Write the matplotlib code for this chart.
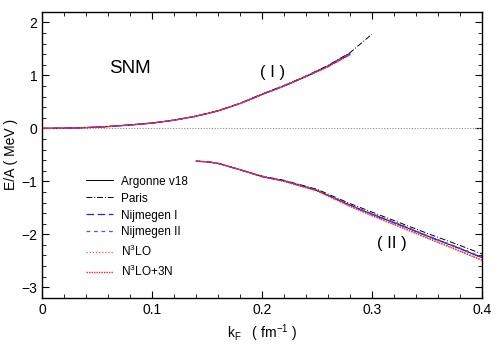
import matplotlib
matplotlib.use("Agg")
import matplotlib.pyplot as plt
from matplotlib.ticker import MultipleLocator

plt.rcParams['font.family'] = ['Liberation Sans', 'DejaVu Sans']
plt.rcParams['mathtext.fontset'] = 'custom'
plt.rcParams['mathtext.rm'] = 'Liberation Sans'
plt.rcParams['mathtext.it'] = 'Liberation Sans'

# ---- data (branch I: upper, branch II: lower) ----
kF_up = [0.0, 0.02, 0.04, 0.06, 0.08, 0.10, 0.12, 0.14, 0.16, 0.18, 0.20, 0.22, 0.24, 0.26, 0.28]
av18_up = [0.0, 0.005, 0.015, 0.035, 0.065, 0.10, 0.155, 0.23, 0.33, 0.47, 0.64, 0.80, 0.98, 1.17, 1.40]
kF_up_paris = [0.0, 0.02, 0.04, 0.06, 0.08, 0.10, 0.12, 0.14, 0.16, 0.18, 0.20, 0.22, 0.24, 0.26, 0.28, 0.30]
paris_up = [0.0, 0.005, 0.015, 0.035, 0.066, 0.10, 0.157, 0.232, 0.335, 0.475, 0.65, 0.81, 0.99, 1.19, 1.43, 1.78]
nijm1_up = [0.0, 0.005, 0.015, 0.035, 0.065, 0.10, 0.156, 0.231, 0.332, 0.472, 0.645, 0.805, 0.985, 1.18, 1.42]
nijm2_up = [0.0, 0.005, 0.015, 0.035, 0.065, 0.10, 0.155, 0.230, 0.331, 0.471, 0.643, 0.803, 0.983, 1.175, 1.41]
n3lo_up = [0.0, 0.005, 0.015, 0.035, 0.065, 0.10, 0.155, 0.229, 0.329, 0.468, 0.638, 0.798, 0.977, 1.165, 1.39]
n3lo3n_up = [0.0, 0.005, 0.015, 0.035, 0.065, 0.10, 0.155, 0.229, 0.329, 0.468, 0.638, 0.798, 0.977, 1.165, 1.39]

kF_lo = [0.14, 0.15, 0.16, 0.18, 0.20, 0.22, 0.25, 0.28, 0.30, 0.33, 0.35, 0.38, 0.40]
av18_lo = [-0.62, -0.63, -0.66, -0.78, -0.91, -0.99, -1.17, -1.45, -1.62, -1.86, -2.03, -2.27, -2.44]
paris_lo = [-0.62, -0.63, -0.66, -0.78, -0.90, -0.98, -1.15, -1.42, -1.58, -1.82, -1.98, -2.21, -2.37]
nijm1_lo = [-0.62, -0.63, -0.66, -0.78, -0.91, -0.99, -1.17, -1.45, -1.62, -1.86, -2.03, -2.27, -2.44]
nijm2_lo = [-0.62, -0.63, -0.66, -0.78, -0.91, -0.99, -1.17, -1.45, -1.61, -1.85, -2.02, -2.26, -2.43]
n3lo_lo = [-0.62, -0.63, -0.66, -0.78, -0.91, -1.00, -1.18, -1.47, -1.64, -1.89, -2.06, -2.31, -2.48]
n3lo3n_lo = [-0.62, -0.63, -0.66, -0.78, -0.91, -1.00, -1.18, -1.47, -1.65, -1.90, -2.07, -2.32, -2.49]

labels = ["Argonne v18", "Paris", "Nijmegen I", "Nijmegen II", r"N$^3$LO", r"N$^3$LO+3N"]

fig = plt.figure(figsize=(5, 3.5), dpi=100)
ax = fig.add_axes([0.084, 0.149, 0.880, 0.817])

ax.axhline(0, color='#888888', lw=0.8, ls=(0, (1, 1.5)))

styles = [
    dict(color='black', lw=0.7, ls='-'),
    dict(color='black', lw=0.7, ls=(0, (6, 2, 1, 2))),
    dict(color='#2020ff', lw=0.9, ls=(0, (6, 3))),
    dict(color='#5050ff', lw=0.9, ls=(0, (3, 3))),
    dict(color='#ff5050', lw=0.9, ls=(0, (1, 1.5))),
    dict(color='#ff2020', lw=1.0, ls=(0, (1, 0.8))),
]
ups = [(kF_up, av18_up), (kF_up_paris, paris_up), (kF_up, nijm1_up), (kF_up, nijm2_up), (kF_up, n3lo_up), (kF_up, n3lo3n_up)]
los = [av18_lo, paris_lo, nijm1_lo, nijm2_lo, n3lo_lo, n3lo3n_lo]
for (kx, yu), yl, st, lab in zip(ups, los, styles, labels):
    ax.plot(kx, yu, label=lab, **st)
    ax.plot(kF_lo, yl, **st)

ax.set_xlim(0, 0.4)
ax.set_ylim(-3.2, 2.2)
ax.xaxis.set_major_locator(MultipleLocator(0.1))
ax.xaxis.set_minor_locator(MultipleLocator(0.02))
ax.yaxis.set_major_locator(MultipleLocator(1))
ax.yaxis.set_minor_locator(MultipleLocator(0.2))
ax.set_xticks([0, 0.1, 0.2, 0.3, 0.4])
ax.set_xticklabels(["0", "0.1", "0.2", "0.3", "0.4"])
ax.tick_params(which='both', direction='in', top=True, right=True, labelsize=10)
ax.tick_params(which='major', length=5, width=0.8)
ax.tick_params(which='minor', length=3, width=0.6)
for s in ax.spines.values():
    s.set_linewidth(1.0)

ax.set_xlabel(r"k$_\mathrm{F}$   ( fm$^{-1}$ )", fontsize=10, labelpad=4)
ax.set_ylabel("E/A ( MeV )", fontsize=10, labelpad=2)

ax.text(0.08, 1.13, "SNM", fontsize=13.5, ha='center', va='center')
ax.text(0.21, 1.05, "( I )", fontsize=12, ha='center', va='center')
ax.text(0.318, -2.18, "( II )", fontsize=12, ha='center', va='center')

leg = ax.legend(loc='upper left', bbox_to_anchor=(0.09, 0.444), frameon=False,
                fontsize=8.5, handlelength=2.3, handletextpad=0.6, labelspacing=0.42,
                borderaxespad=0)

fig.savefig("out.png", dpi=100)
